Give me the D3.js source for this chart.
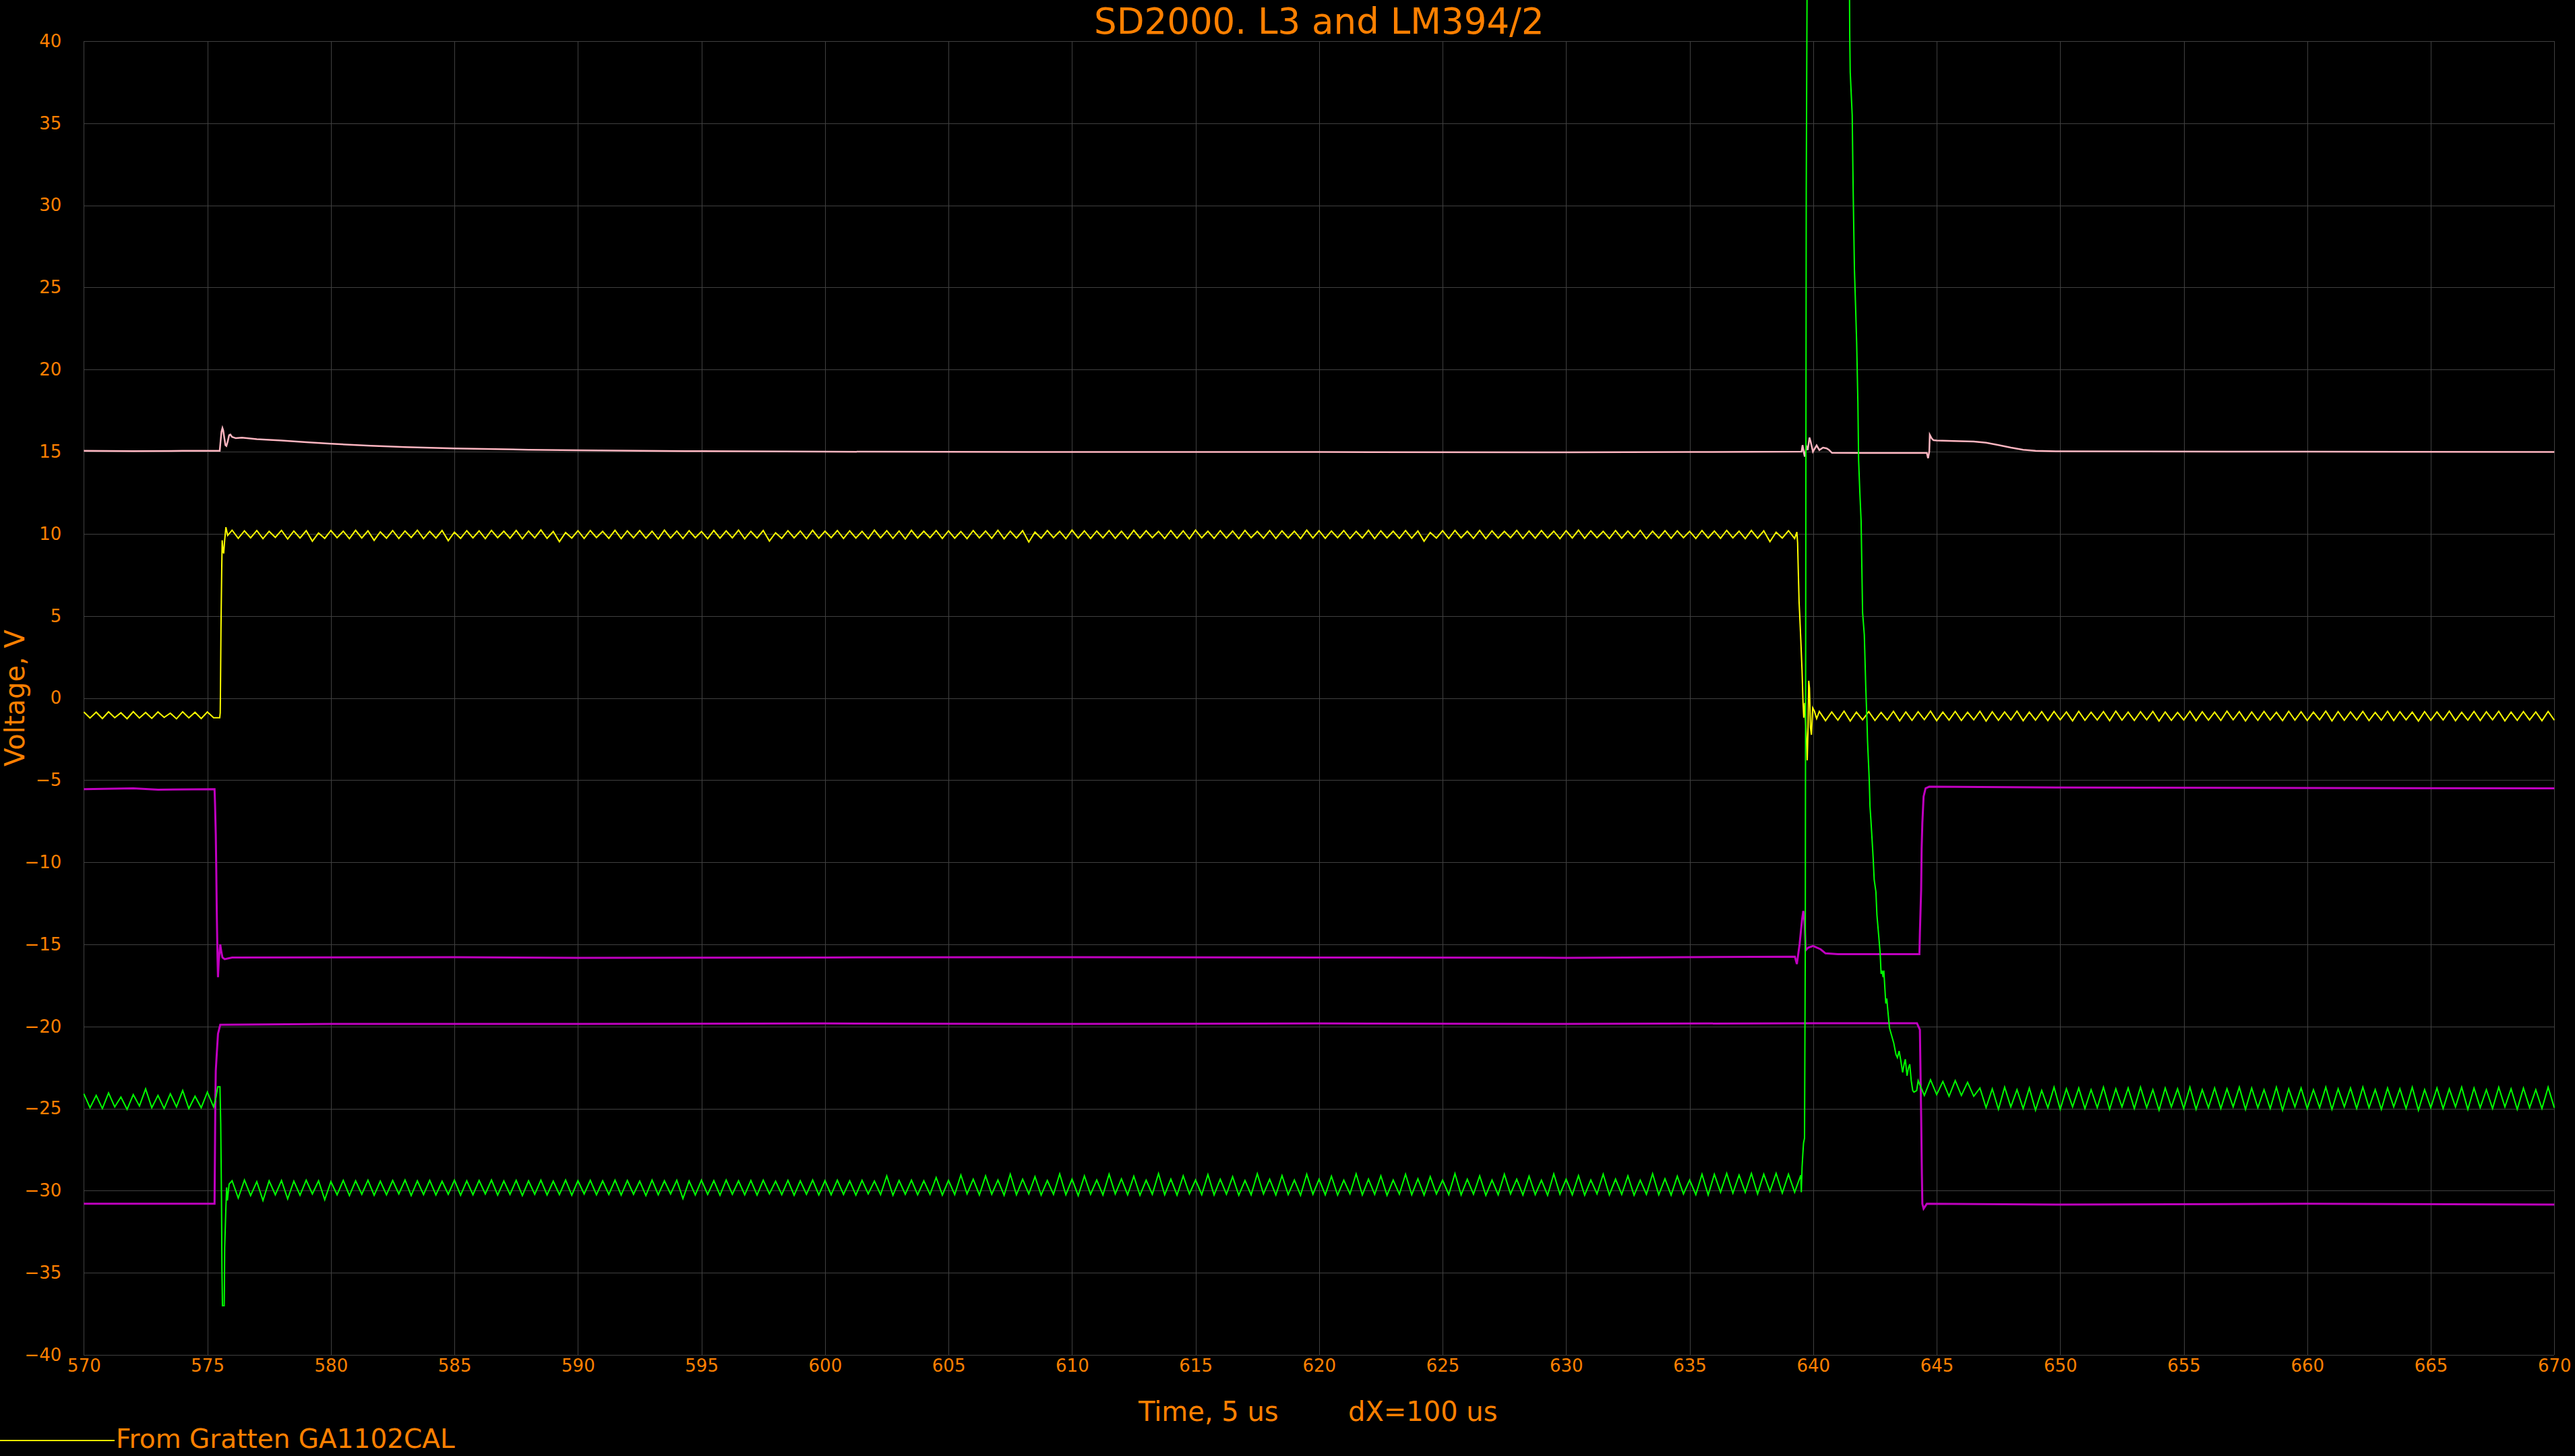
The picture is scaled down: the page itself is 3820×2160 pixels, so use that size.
<!DOCTYPE html>
<html>
<head>
<meta charset="utf-8">
<script src="https://cdn.jsdelivr.net/npm/d3@7"></script>
<style>
  html, body { margin: 0; padding: 0; background: #000; }
  svg { display: block; }
  text { font-family: "DejaVu Sans", Verdana, sans-serif; fill: #ff8000; }
</style>
</head>
<body>
<svg id="chart" width="3820" height="2160"></svg>
<script>
// ---------------- DATA ----------------
const title = "SD2000. L3 and LM394/2";
const xLabel = "Time, 5 us";
const xNote = "dX=100 us";
const yLabel = "Voltage, V";
const legendName = "From Gratten GA1102CAL";

const xTicks = [570,575,580,585,590,595,600,605,610,615,620,625,630,635,640,645,650,655,660,665,670];
const yTicks = [-40,-35,-30,-25,-20,-15,-10,-5,0,5,10,15,20,25,30,35,40];

// uniform scope sample interval (us) for the sampled runs below
const SAMPLE_DT = 0.25;

// ---- yellow trace ----
const yellowPreStart = 570.0;
const yellowPre = [-0.85,-1.22,-0.86,-1.25,-0.84,-1.2,-0.9,-1.26,-0.83,-1.22,-0.88,-1.24,-0.85,-1.18,-0.92,-1.27,-0.84,-1.21,-0.87,-1.25,-0.85,-1.2];
const yellowRise = [[575.5,-1.2],[575.52,-0.9],[575.53,0.56],[575.55,4.16],[575.58,7.8],[575.6,9.6],[575.63,9.0],[575.66,8.8],[575.7,9.6],[575.75,10.4],[575.82,9.9]];
const yellowHighStart = 576.0;
const yellowHigh = [
10.22,9.72,10.18,9.75,10.2,9.7,10.15,9.78,10.21,9.68,10.17,9.74,10.19,9.55,10.05,9.72,10.2,9.76,10.16,9.7,
10.21,9.74,10.18,9.6,10.12,9.73,10.2,9.71,10.17,9.77,10.22,9.7,10.15,9.74,10.2,9.58,10.1,9.72,10.19,9.75,
10.18,9.7,10.21,9.76,10.16,9.73,10.2,9.69,10.17,9.75,10.23,9.72,10.14,9.52,10.08,9.74,10.19,9.71,10.2,9.77,
10.15,9.72,10.21,9.7,10.18,9.75,10.2,9.73,10.16,9.68,10.22,9.74,10.17,9.71,10.19,9.76,10.14,9.7,10.2,9.73,
10.18,9.75,10.22,9.69,10.15,9.74,10.2,9.56,10.06,9.72,10.19,9.75,10.17,9.7,10.21,9.73,10.16,9.76,10.2,9.71,
10.18,9.74,10.15,9.7,10.22,9.75,10.19,9.72,10.17,9.68,10.21,9.74,10.16,9.76,10.2,9.71,10.18,9.73,10.14,9.7,
10.2,9.75,10.17,9.72,10.21,9.69,10.16,9.74,10.19,9.5,10.1,9.73,10.2,9.76,10.15,9.7,10.22,9.74,10.18,9.71,
10.17,9.75,10.2,9.72,10.16,9.7,10.21,9.74,10.19,9.76,10.15,9.71,10.2,9.73,10.18,9.69,10.22,9.75,10.16,9.72,
10.19,9.74,10.17,9.7,10.21,9.76,10.15,9.73,10.2,9.71,10.18,9.75,10.16,9.7,10.22,9.74,10.19,9.72,10.17,9.76,
10.2,9.71,10.15,9.74,10.21,9.7,10.18,9.75,10.16,9.72,10.2,9.73,10.17,9.55,10.08,9.74,10.19,9.71,10.21,9.75,
10.16,9.72,10.2,9.7,10.18,9.74,10.15,9.76,10.21,9.71,10.17,9.73,10.2,9.75,10.16,9.7,10.19,9.74,10.22,9.72,
10.18,9.76,10.15,9.71,10.2,9.73,10.17,9.75,10.21,9.7,10.16,9.74,10.19,9.72,10.18,9.76,10.15,9.71,10.2,9.74,
10.17,9.72,10.21,9.75,10.16,9.7,10.2,9.73,10.18,9.52,10.1,9.74,10.19,9.71];
const yellowFall = [[639.34,10.1],[639.37,9.45],[639.4,7.6],[639.43,5.85],[639.46,4.9],[639.5,3.5],[639.55,1.66],[639.59,-0.3],[639.62,-1.2],[639.66,-0.3],[639.69,-1.3],[639.73,-2.6],[639.76,-3.8],[639.79,-2.0],[639.82,1.05],[639.85,0.6],[639.89,-1.8],[639.93,-2.24],[639.98,-0.6],[640.05,-0.8],[640.14,-1.26]];
const yellowPostStart = 640.25;
const yellowPost = [
-0.82,-1.38,-0.85,-1.35,-0.8,-1.4,-0.86,-1.33,-0.83,-1.37,-0.88,-1.34,-0.81,-1.39,-0.85,-1.36,-0.84,-1.32,-0.8,-1.38,
-0.86,-1.35,-0.82,-1.37,-0.87,-1.33,-0.81,-1.4,-0.84,-1.36,-0.85,-1.34,-0.8,-1.38,-0.86,-1.35,-0.83,-1.37,-0.82,-1.33,
-0.85,-1.39,-0.81,-1.36,-0.87,-1.34,-0.83,-1.38,-0.8,-1.35,-0.86,-1.37,-0.84,-1.33,-0.82,-1.4,-0.85,-1.36,-0.88,-1.34,
-0.81,-1.38,-0.84,-1.35,-0.86,-1.37,-0.8,-1.33,-0.83,-1.39,-0.85,-1.36,-0.82,-1.34,-0.87,-1.38,-0.81,-1.35,-0.84,-1.37,
-0.86,-1.33,-0.8,-1.39,-0.83,-1.36,-0.85,-1.34,-0.82,-1.38,-0.88,-1.35,-0.81,-1.37,-0.84,-1.33,-0.86,-1.4,-0.83,-1.36,
-0.85,-1.34,-0.8,-1.38,-0.87,-1.35,-0.82,-1.37,-0.84,-1.33,-0.81,-1.39,-0.86,-1.36,-0.83,-1.34,-0.85,-1.38,-0.82,-1.35];

// ---- green trace ----
const greenPreStart = 570.0;
const greenPre = [-24.1,-24.95,-24.2,-25.0,-24.05,-24.9,-24.3,-25.05,-24.15,-24.85,-23.8,-24.95,-24.2,-25.0,-24.1,-24.9,-23.9,-25.0,-24.25,-24.95,-24.0,-24.9];
const greenDip = [[575.35,-24.3],[575.42,-23.67],[575.51,-23.67],[575.54,-25.9],[575.57,-30.35],[575.59,-34.8],[575.61,-37.0],[575.68,-37.0],[575.69,-35.8],[575.7,-33.5],[575.75,-31.0],[575.78,-29.8],[575.81,-30.6],[575.88,-29.6]];
const greenLowStart = 576.0;
const greenLow = [
-29.4,-30.45,-29.35,-30.3,-29.45,-30.6,-29.4,-30.25,-29.38,-30.5,-29.42,-30.28,-29.36,-30.2,-29.4,-30.55,-29.45,-30.25,-29.37,-30.3,
-29.4,-30.22,-29.36,-30.28,-29.42,-30.25,-29.38,-30.2,-29.35,-30.3,-29.4,-30.24,-29.37,-30.26,-29.43,-30.22,-29.36,-30.28,-29.4,-30.25,
-29.38,-30.2,-29.35,-30.27,-29.41,-30.23,-29.37,-30.3,-29.4,-30.22,-29.36,-30.26,-29.42,-30.24,-29.35,-30.28,-29.39,-30.2,-29.37,-30.25,
-29.4,-30.23,-29.36,-30.27,-29.38,-30.22,-29.42,-30.3,-29.35,-30.25,-29.4,-30.2,-29.37,-30.48,-29.41,-30.26,-29.36,-30.23,-29.39,-30.28,
-29.35,-30.22,-29.4,-30.25,-29.38,-30.27,-29.36,-30.2,-29.42,-30.24,-29.37,-30.28,-29.4,-30.22,-29.35,-30.26,-29.39,-30.25,-29.36,-30.23,
-29.4,-30.27,-29.37,-30.2,-29.41,-30.24,-29.1,-30.28,-29.38,-30.22,-29.36,-30.25,-29.4,-30.23,-29.2,-30.27,-29.37,-30.24,-29.05,-30.2,
-29.3,-30.26,-29.1,-30.22,-29.35,-30.28,-29.0,-30.25,-29.3,-30.2,-29.15,-30.27,-29.38,-30.23,-28.98,-30.25,-29.3,-30.3,-29.1,-30.22,
-29.35,-30.26,-29.0,-30.2,-29.28,-30.25,-29.12,-30.28,-29.36,-30.22,-28.96,-30.25,-29.3,-30.27,-29.1,-30.2,-29.35,-30.24,-29.02,-30.26,
-29.3,-30.22,-29.15,-30.28,-29.38,-30.25,-28.97,-30.2,-29.3,-30.26,-29.08,-30.24,-29.35,-30.28,-29.0,-30.22,-29.3,-30.25,-29.12,-30.27,
-29.36,-30.2,-28.98,-30.26,-29.3,-30.23,-29.1,-30.28,-29.35,-30.22,-29.0,-30.25,-29.28,-30.27,-29.15,-30.2,-29.36,-30.24,-28.96,-30.26,
-29.3,-30.22,-29.1,-30.28,-29.35,-30.25,-29.0,-30.2,-29.3,-30.26,-29.12,-30.24,-29.36,-30.28,-28.98,-30.22,-29.3,-30.25,-29.08,-30.27,
-29.35,-30.2,-29.0,-30.26,-29.3,-30.23,-29.1,-30.28,-29.36,-30.22,-28.97,-30.25,-29.28,-30.27,-29.12,-30.2,-29.35,-30.24,-29.0,-30.26,
-29.0,-30.1,-28.95,-30.15,-29.05,-30.1,-28.95,-30.2,-29.0,-30.05,-28.95,-30.15,-29.0,-30.1,-29.05];
const greenPulse = [[639.52,-30.1],[639.55,-28.6],[639.58,-27.8],[639.61,-27.1],[639.65,-26.8],[639.68,-15.3],[639.72,30.9],[639.76,46],[639.8,50],[641.4,50],[641.47,43],[641.48,40.4],[641.5,38.1],[641.58,35.5],[641.62,30.8],[641.67,26.1],[641.72,23.7],[641.76,21.65],[641.81,18.0],[641.84,14.45],[641.89,12.5],[641.94,10.8],[641.97,8.0],[642.0,5.2],[642.07,3.85],[642.13,0.62],[642.18,-1.5],[642.2,-2.6],[642.27,-5.0],[642.3,-6.6],[642.34,-7.5],[642.38,-8.5],[642.43,-9.8],[642.47,-11.07],[642.54,-11.8],[642.58,-13.2],[642.66,-14.6],[642.71,-15.5],[642.75,-16.8],[642.79,-16.6],[642.83,-17.0],[642.86,-16.6],[642.94,-18.6],[642.98,-18.3],[643.02,-19.0],[643.09,-20.1],[643.26,-21.0],[643.35,-21.7],[643.41,-21.9],[643.48,-21.5],[643.55,-22.1],[643.62,-22.8],[643.68,-22.3],[643.73,-22.0],[643.8,-23.0],[643.86,-22.5],[643.91,-22.3],[643.97,-23.3],[644.03,-23.9],[644.08,-24.0],[644.19,-23.9]];
const greenPostStart = 644.25;
const greenPost = [
-23.3,-24.2,-23.25,-24.15,-23.35,-24.25,-23.3,-24.2,-23.4,-24.25,
-23.75,-24.95,-23.8,-25.05,-23.7,-24.9,-23.85,-25.0,-23.75,-25.1,-23.9,-24.95,-23.7,-25.05,-23.8,-24.9,-23.75,-25.0,-23.85,-24.95,
-23.7,-25.05,-23.8,-24.9,-23.75,-25.0,-23.7,-24.95,-23.85,-25.1,-23.75,-24.9,-23.8,-25.0,-23.7,-25.05,-23.85,-24.95,-23.75,-25.0,
-23.8,-24.9,-23.7,-25.05,-23.75,-24.95,-23.85,-25.0,-23.7,-25.1,-23.8,-24.9,-23.75,-25.0,-23.85,-24.95,-23.7,-25.05,-23.8,-24.9,
-23.75,-25.0,-23.7,-24.95,-23.85,-25.05,-23.75,-24.9,-23.8,-25.0,-23.7,-25.1,-23.85,-24.95,-23.75,-25.0,-23.8,-24.9,-23.7,-25.05,
-23.75,-24.95,-23.85,-25.0,-23.7,-24.9,-23.8,-25.05,-23.75,-24.95,-23.85,-25.0,-23.7,-24.95];

// ---- pink trace (~15 V) ----
const pinkTrace = [[570,15.05],[572,15.03],[574,15.05],[575.5,15.05],[575.52,15.4],[575.57,16.2],[575.61,16.44],[575.64,16.3],[575.69,15.8],[575.73,15.4],[575.77,15.35],[575.82,15.6],[575.88,16.0],[575.93,16.04],[576.0,15.9],[576.15,15.82],[576.4,15.85],[577,15.76],[578,15.68],[579,15.58],[580,15.48],[581.6,15.36],[583,15.28],[585,15.2],[588,15.12],[590,15.08],[595,15.03],[600,15.0],[610,14.98],[620,14.98],[630,14.96],[635,14.98],[639.53,15.0],[639.57,15.4],[639.63,14.9],[639.66,14.7],[639.73,15.3],[639.78,15.1],[639.85,15.86],[639.9,15.6],[639.99,15.0],[640.14,15.38],[640.25,15.1],[640.4,15.25],[640.55,15.2],[640.65,15.1],[640.76,14.93],[642,14.92],[644,14.92],[644.6,14.92],[644.65,14.6],[644.7,15.0],[644.72,16.03],[644.8,15.8],[644.87,15.7],[645,15.68],[645.7,15.65],[646.5,15.62],[647,15.55],[647.5,15.4],[648,15.25],[648.5,15.12],[649,15.05],[650,15.02],[660,15.0],[670,14.98]];

// ---- magenta traces ----
const magentaUpper = [[570,-5.55],[572,-5.5],[573,-5.58],[575.29,-5.55],[575.31,-6.45],[575.34,-8.3],[575.36,-10.4],[575.38,-13.0],[575.41,-15.8],[575.43,-17.0],[575.46,-16.0],[575.52,-15.0],[575.57,-15.5],[575.61,-15.8],[575.7,-15.9],[576,-15.8],[585,-15.78],[590,-15.82],[600,-15.8],[610,-15.78],[620,-15.8],[630,-15.82],[639.26,-15.75],[639.34,-16.2],[639.45,-15.0],[639.55,-13.5],[639.6,-12.97],[639.65,-13.6],[639.7,-15.36],[639.8,-15.2],[640,-15.1],[640.3,-15.3],[640.5,-15.55],[641,-15.6],[644.3,-15.6],[644.32,-14.3],[644.37,-11.7],[644.39,-9.2],[644.42,-7.6],[644.47,-6.0],[644.55,-5.5],[644.7,-5.4],[650,-5.45],[660,-5.48],[670,-5.5]];
const magentaLower = [[570,-30.8],[575.29,-30.8],[575.3,-28.9],[575.32,-24.9],[575.34,-22.7],[575.38,-21.67],[575.43,-20.45],[575.52,-19.9],[580,-19.85],[590,-19.85],[600,-19.82],[610,-19.85],[620,-19.82],[630,-19.85],[640,-19.8],[644.2,-19.8],[644.32,-20.2],[644.37,-25.4],[644.4,-29.0],[644.42,-30.8],[644.47,-31.1],[644.6,-30.8],[650,-30.85],[660,-30.8],[670,-30.85]];

// ---------------- LAYOUT ----------------
const W = 3820, H = 2160;
const plot = { left: 124.4, right: 3789.3, top: 61, bottom: 2010 };
const colors = { text: "#ff8000", grid: "#404040", pink: "#ffb6c1", yellow: "#ffff00", magenta: "#c000c0", green: "#00ff00" };

const x = d3.scaleLinear().domain([570, 670]).range([plot.left, plot.right]);
const y = d3.scaleLinear().domain([-40, 40]).range([plot.bottom, plot.top]);

const svg = d3.select("#chart");
svg.append("rect").attr("width", W).attr("height", H).attr("fill", "#000");

// grid
const grid = svg.append("g").attr("stroke", colors.grid).attr("stroke-width", 1).attr("shape-rendering", "crispEdges");
grid.selectAll("line.v").data(xTicks).join("line").attr("class", "v")
  .attr("x1", d => Math.round(x(d)) + 0.5).attr("x2", d => Math.round(x(d)) + 0.5).attr("y1", plot.top).attr("y2", plot.bottom);
grid.selectAll("line.h").data(yTicks).join("line").attr("class", "h")
  .attr("x1", plot.left).attr("x2", plot.right).attr("y1", d => Math.round(y(d)) + 0.5).attr("y2", d => Math.round(y(d)) + 0.5);

// axes (labels only)
const xAxis = d3.axisBottom(x).tickValues(xTicks).tickSize(0).tickPadding(6.5).tickFormat(d3.format("d"));
const yAxis = d3.axisLeft(y).tickValues(yTicks).tickSize(0).tickPadding(33).tickFormat(d3.format("d"));
const gx = svg.append("g").attr("transform", `translate(0,${plot.bottom})`).call(xAxis);
const gy = svg.append("g").attr("transform", `translate(${plot.left},0)`).call(yAxis);
[gx, gy].forEach(g => {
  g.select(".domain").remove();
  g.selectAll("text").attr("font-size", 26).attr("fill", colors.text).attr("font-family", '"DejaVu Sans", Verdana, sans-serif');
});

// series helpers
function sampled(t0, values) { return values.map((v, i) => [t0 + i * SAMPLE_DT, v]); }
const yellowSeries = [].concat(sampled(yellowPreStart, yellowPre), yellowRise, sampled(yellowHighStart, yellowHigh), yellowFall, sampled(yellowPostStart, yellowPost));
const greenSeries = [].concat(sampled(greenPreStart, greenPre), greenDip, sampled(greenLowStart, greenLow), greenPulse, sampled(greenPostStart, greenPost));

const line = d3.line().x(d => x(d[0])).y(d => y(d[1]));

const series = [
  { data: magentaLower, color: colors.magenta, w: 3 },
  { data: magentaUpper, color: colors.magenta, w: 3 },
  { data: pinkTrace, color: colors.pink, w: 2.5 },
  { data: yellowSeries, color: colors.yellow, w: 2 },
  { data: greenSeries, color: colors.green, w: 2 }
];
svg.append("g").selectAll("path").data(series).join("path")
  .attr("d", d => line(d.data)).attr("fill", "none")
  .attr("stroke", d => d.color).attr("stroke-width", d => d.w).attr("stroke-linejoin", "miter");

// titles
svg.append("text").attr("x", (plot.left + plot.right) / 2).attr("y", 50)
  .attr("text-anchor", "middle").attr("font-size", 53).text(title);
svg.append("text").attr("x", 1689).attr("y", 2108).attr("font-size", 40).text(xLabel);
svg.append("text").attr("x", 2000).attr("y", 2108).attr("font-size", 40).text(xNote);
svg.append("text").attr("transform", `translate(36,${(plot.top + plot.bottom) / 2}) rotate(-90)`)
  .attr("text-anchor", "middle").attr("font-size", 40).text(yLabel);

// legend
svg.append("line").attr("x1", 0).attr("x2", 170).attr("y1", 2137).attr("y2", 2137)
  .attr("stroke", colors.yellow).attr("stroke-width", 2);
svg.append("text").attr("x", 172).attr("y", 2148).attr("font-size", 39).text(legendName);
</script>
</body>
</html>
